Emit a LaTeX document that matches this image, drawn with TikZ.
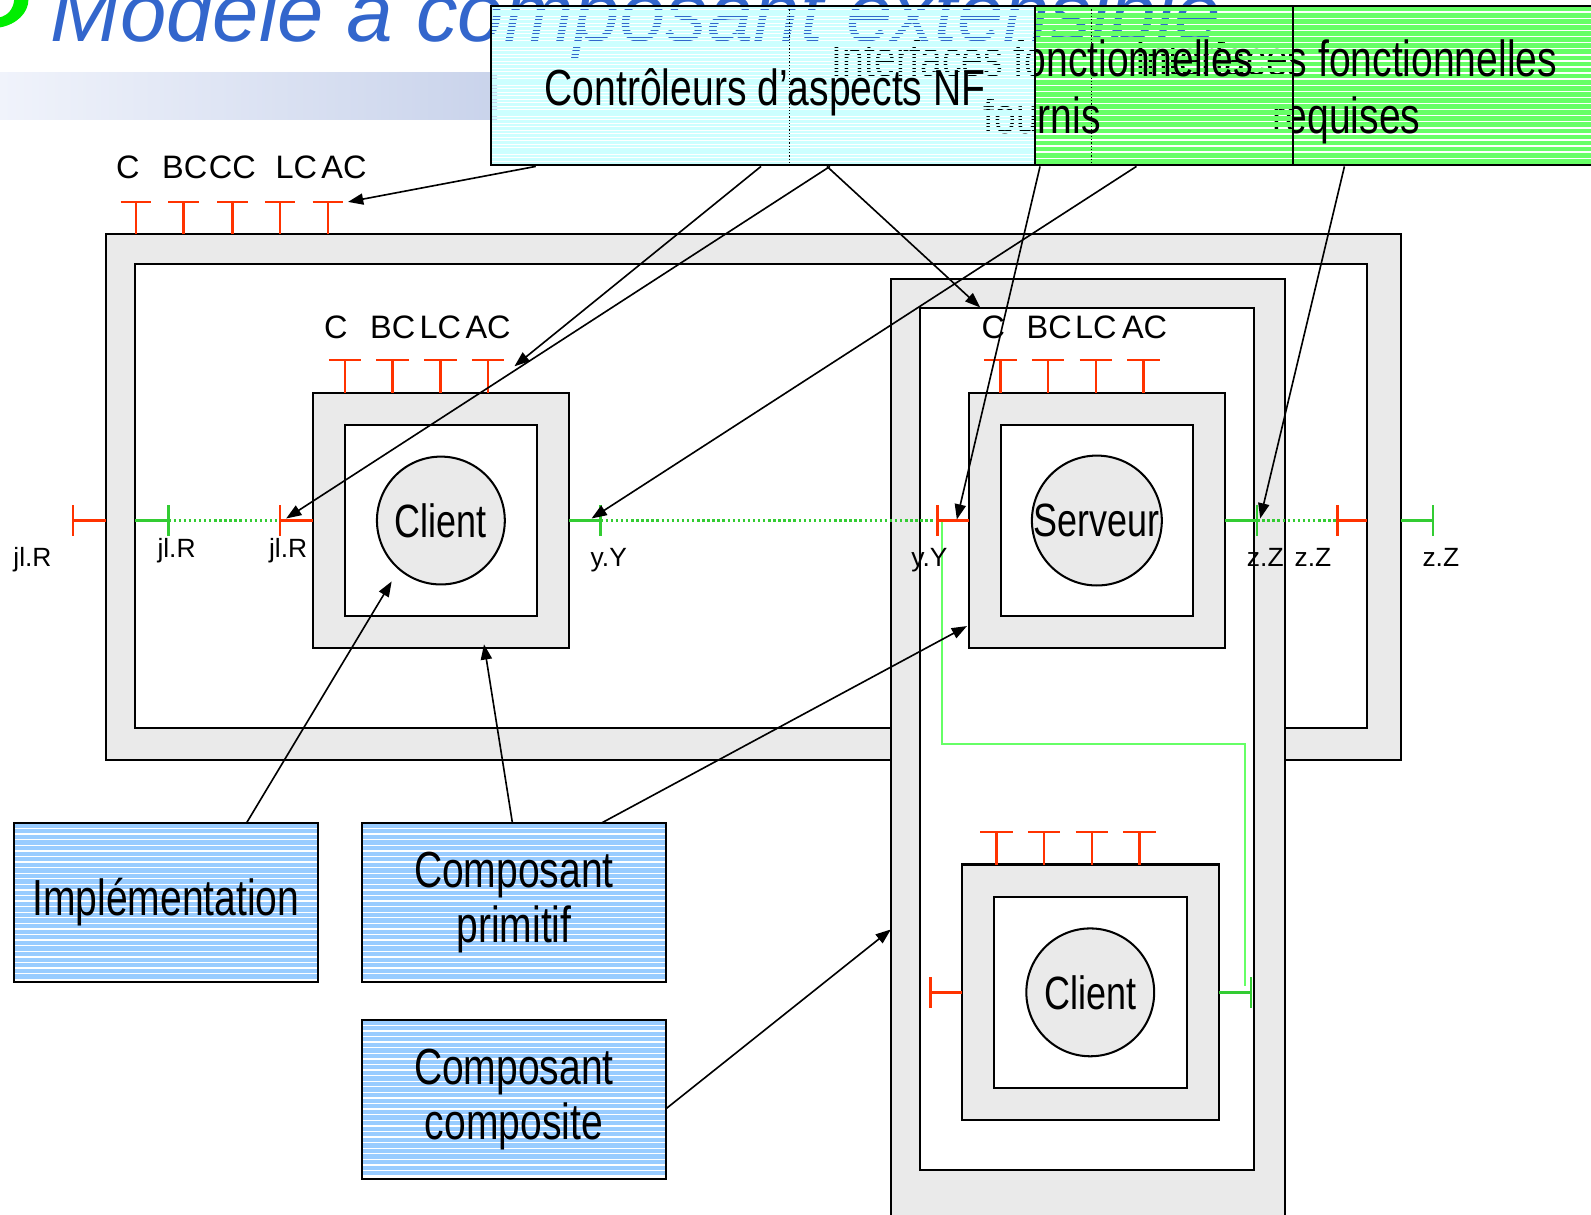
\documentclass[tikz,border=0pt]{standalone}
\usepackage{fontspec}
\setmainfont{Liberation Sans}
\newfontfamily\narrowfont[FakeStretch=0.77]{Liberation Sans}
\usepackage{xcolor}
\usetikzlibrary{arrows.meta, positioning}

\definecolor{membgray}{HTML}{EAEAEA}
\definecolor{portred}{HTML}{FF3300}
\definecolor{portgreen}{HTML}{33CC33}
\definecolor{bindgreen}{HTML}{66FF66}
\definecolor{titleblue}{HTML}{3366CC}
\definecolor{bulletgreen}{HTML}{00EE00}
\definecolor{nfcyan}{HTML}{CCFFFF}
\definecolor{itfgreen}{HTML}{66FF66}
\definecolor{legendblue}{HTML}{99CCFF}
\definecolor{bandleft}{HTML}{F0F3FB}
\definecolor{bandright}{HTML}{C9D3EB}

\begin{document}
\begin{tikzpicture}[
    x=1pt, y=-1pt,
    membrane/.style={draw, line width=2pt, fill=membgray, inner sep=0pt},
    content/.style={draw, line width=2pt, fill=white, inner sep=0pt},
    impl/.style={circle, draw, line width=2pt, fill=membgray, minimum size=126pt, inner sep=0pt, font=\narrowfont\fontsize{46}{50}\selectfont},
    ctrl/.style={draw=portred, line width=2.4pt},
    fitf/.style={draw=portgreen, line width=2.4pt},
    binding/.style={draw=portgreen, line width=2.4pt, dash pattern=on 2.4pt off 2.6pt},
    bindline/.style={draw=bindgreen, line width=1.8pt},
    plabel/.style={font=\fontsize{26}{30}\selectfont, anchor=base, inner sep=0pt},
    clabel/.style={font=\fontsize{32}{36}\selectfont, anchor=base, inner sep=0pt},
    bigtext/.style={font=\narrowfont\fontsize{50}{55}\selectfont, anchor=base, inner sep=0pt},
    topbox/.style={draw, line width=2pt, minimum height=157pt, inner sep=0pt, outer sep=0pt},
    legend/.style={draw, line width=2pt, minimum width=299pt, minimum height=157pt, outer sep=0pt, align=center, font=\narrowfont\fontsize{50}{54}\selectfont},
    arrow/.style={-{Triangle[length=15pt,width=11pt]}, line width=1.6pt}
]
\useasboundingbox (0,0) rectangle (1568,1197);

% slide title
\shade[left color=bandleft, right color=bandright] (0,71) rectangle (490,118);
\fill[bulletgreen] (0,27) .. controls (17,24) and (28,12) .. (28,0) -- (14,0) .. controls (13,9) and (8,15) .. (0,17) -- cycle;
\node[anchor=base west, inner sep=0pt, text=titleblue, font=\fontsize{82}{90}\selectfont\itshape] (title) at (50,41) {Modèle à composant extensible};

% legend boxes on top (striped, see-through)
\foreach \yy in {9,15,...,161}
    \draw[itfgreen, line width=4.6pt] (1274,\yy) -- (1600,\yy);
\node[topbox, minimum width=326pt] (req) at (1437,84.5) {};
\node[bigtext] (reqA) at (1327,75) {Interfaces fonctionnelles};
\node[bigtext] (reqB) at (1327,132) {requises};
\foreach \yy in {9,15,...,161}
    \draw[itfgreen, line width=4.6pt] (1020,\yy) -- (1274,\yy);
\node[topbox, minimum width=254pt] (prov) at (1147,84.5) {};
\node[bigtext] (provA) at (1027,75) {Interfaces fonctionnelles};
\node[bigtext] (provB) at (1027,132) {fournis};
\foreach \yy in {7.7,11.1,...,162}
    \draw[nfcyan, line width=2.5pt] (484,\yy) -- (1020,\yy);
\node[topbox, minimum width=536pt] (nf) at (752,84.5) {};
\node[bigtext] (nfA) at (754,104) {Contrôleurs d’aspects NF};
\draw[dotted, line width=1.2pt] (778,6) -- (778,163) (1076,6) -- (1076,163);

% composites
\node[membrane, minimum width=1277pt, minimum height=518pt] (top) at (742.5,490) {};
\node[content, minimum width=1214pt, minimum height=457pt] (topin) at (740,488.5) {};
\node[membrane, minimum width=388pt, minimum height=955pt] (sub) at (1072,752.5) {};
\node[content, minimum width=329pt, minimum height=849pt] (subin) at (1071.5,728.5) {};

% primitives
\node[membrane, minimum width=253pt, minimum height=252pt] (cli) at (434.5,513) {};
\node[content, minimum width=189pt, minimum height=188pt] (cliin) at (cli) {};
\node[impl] (cliimpl) at (cli) {Client};
\node[membrane, minimum width=252pt, minimum height=252pt] (srv) at (1081,513) {};
\node[content, minimum width=189pt, minimum height=188pt] (srvin) at (srv) {};
\node[impl] (srvimpl) at (srv) {Serveur};
\node[membrane, minimum width=253pt, minimum height=252pt] (cli2) at (1074.5,978) {};
\node[content, minimum width=190pt, minimum height=188pt] (cli2in) at (cli2) {};
\node[impl] (cli2impl) at (cli2) {Client};

% port ends
\coordinate (topR) at (166,513);
\coordinate (cliR) at (276,513);
\coordinate (cliY) at (592,513);
\coordinate (srvY) at (924,513);
\coordinate (srvZ) at (1239,513);
\coordinate (topZ) at (1318,513);
\coordinate (srvYin) at (928,513);
\coordinate (cli2Z) at (1227,972);

% bindings
\draw[bindline] (srvYin) |- (1227,733) -- (cli2Z);
\draw[binding] (topR) -- (cliR);
\draw[binding] (cliY) -- (srvY);
\draw[binding] (srvZ) -- (topZ);

% control interfaces
\foreach \px in {134,181,229,276,323}
    \draw[ctrl] (\px,231) -- (\px,199) (\px-15,199) -- (\px+15,199);
\foreach \px in {340,387,434,481}
    \draw[ctrl] (\px,387) -- (\px,355) (\px-16,355) -- (\px+16,355);
\foreach \px in {986,1033,1080,1127}
    \draw[ctrl] (\px,387) -- (\px,355) (\px-16,355) -- (\px+16,355);
\foreach \px in {982,1029,1076,1123}
    \draw[ctrl] (\px,852) -- (\px,820) (\px-16,820) -- (\px+16,820);

% functional interfaces
\foreach \xa/\xb/\py in {104/72/513, 308/276/513, 955/924/513, 1347/1318/513, 948/917/978}
    \draw[ctrl] (\xa,\py) -- (\xb,\py) (\xb,\py-15) -- (\xb,\py+15);
\foreach \xa/\xb/\py in {133/166/513, 561/592/513, 1207/1239/513, 1381/1412/513, 1201/1233/978}
    \draw[fitf] (\xa,\py) -- (\xb,\py) (\xb,\py-15) -- (\xb,\py+15);

% control labels
\foreach \lx/\lt in {126/C, 182/BC, 229/CC, 292/LC, 339/AC}
    \node[clabel] (top-\lt) at (\lx,176) {\lt};
\foreach \lx/\lt in {331/C, 387/BC, 434/LC, 481/AC}
    \node[clabel] (cli-\lt) at (\lx,334) {\lt};
\foreach \lx/\lt in {979/C, 1034/BC, 1080/LC, 1128/AC}
    \node[clabel] (srv-\lt) at (\lx,334) {\lt};

% interface labels
\node[plabel] (lab1) at (32,558) {jl.R};
\node[plabel] (lab2) at (174,549) {jl.R};
\node[plabel] (lab3) at (284,549) {jl.R};
\node[plabel] (lab4) at (600,558) {y.Y};
\node[plabel] (lab5) at (916,558) {y.Y};
\node[plabel] (lab6) at (1247,558) {z.Z};
\node[plabel] (lab7) at (1294,558) {z.Z};
\node[plabel] (lab8) at (1420,558) {z.Z};

% legend boxes below
\foreach \yy in {813.8,819.3,...,966}
    \draw[legendblue, line width=4.2pt] (14,\yy) -- (313,\yy) (357,\yy) -- (656,\yy);
\foreach \yy in {1007.8,1013.3,...,1159}
    \draw[legendblue, line width=4.2pt] (357,\yy) -- (656,\yy);
\node[legend] (implbox) at (163.5,889.5) {\raisebox{-6pt}{Implémentation}};
\node[legend, right=44pt of implbox] (primbox) {Composant\\primitif};
\node[legend, below=37pt of primbox] (compbox) {Composant\\composite};

% arrows
\coordinate (nf1) at (528,164);
\coordinate (nf2) at (750,164);
\coordinate (nf3) at (818,164);
\coordinate (nf4) at (815,164);
\coordinate (prov1) at (1025,164);
\coordinate (prov2) at (1120,164);
\coordinate (req1) at (1325,164);
\coordinate (topAC) at (343,199);
\coordinate (cliAC) at (507,361);
\coordinate (cliRtip) at (282,511);
\coordinate (subC) at (966,303);
\coordinate (srvYtip) at (943,512);
\coordinate (cliYtip) at (583,511);
\coordinate (srvZtip) at (1242,511);
\coordinate (impl1) at (243,811);
\coordinate (prim1) at (505,811);
\coordinate (prim2) at (593,811);
\coordinate (comp1) at (656,1093);
\coordinate (cliC) at (386,573);
\coordinate (cliB) at (477,635);
\coordinate (srvB) at (953,617);
\coordinate (subL) at (878,916);

\draw[arrow] (nf1) -- (topAC);
\draw[arrow] (nf2) -- (cliAC);
\draw[arrow] (nf3) -- (cliRtip);
\draw[arrow] (nf4) -- (subC);
\draw[arrow] (prov1) -- (srvYtip);
\draw[arrow] (prov2) -- (cliYtip);
\draw[arrow] (req1) -- (srvZtip);
\draw[arrow] (impl1) -- (cliC);
\draw[arrow] (prim1) -- (cliB);
\draw[arrow] (prim2) -- (srvB);
\draw[arrow] (comp1) -- (subL);
\end{tikzpicture}
\end{document}
